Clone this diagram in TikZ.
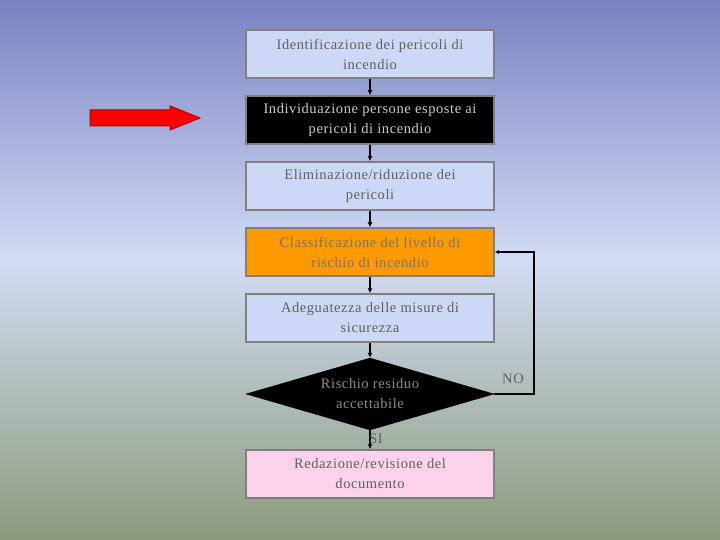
\documentclass[tikz,border=0pt]{standalone}
\usepackage{fontspec}
\setmainfont{Liberation Serif}[LetterSpace=4]
\usetikzlibrary{shapes.geometric,arrows.meta}
\definecolor{bgtop}{HTML}{7A82C2}
\definecolor{bgmid}{HTML}{D2DCF4}
\definecolor{bgbot}{HTML}{8C9A7C}
\definecolor{boxfill}{HTML}{CCD8F6}
\definecolor{boxline}{HTML}{808080}
\definecolor{txt}{HTML}{606060}
\definecolor{orng}{HTML}{FF9900}
\begin{document}
\begin{tikzpicture}[x=1pt,y=-1pt,
  box/.style={draw=boxline,line width=1.5pt,fill=boxfill,minimum width=248pt,minimum height=48pt,align=center,font=\fontsize{14.5}{20}\selectfont,text=txt,inner sep=0pt},
  link/.style={draw=black,line width=1.5pt,-{Latex[length=5pt,width=5pt]}}]
\shade[top color=bgtop,bottom color=bgmid] (0,0) rectangle (720,260);
\shade[top color=bgmid,bottom color=bgbot] (0,259) rectangle (720,540);
\useasboundingbox (0,0) rectangle (720,540);
\node[box] (a) at (370,54) {Identificazione dei pericoli di\\incendio};
\node[box,fill=black,text=black!20] (b) at (370,120) {Individuazione persone esposte ai\\pericoli di incendio};
\node[box] (c) at (370,186) {Eliminazione/riduzione dei\\pericoli};
\node[box,fill=orng,text=black!55] (d) at (370,252) {Classificazione del livello di\\rischio di incendio};
\node[box] (e) at (370,318) {Adeguatezza delle misure di\\sicurezza};
\node[diamond,fill=black,draw=black,minimum width=248pt,minimum height=72pt,inner sep=0pt,text=black!45,align=center,font=\fontsize{14.5}{20}\selectfont,aspect=3.44] (f) at (370,394) {Rischio residuo\\accettabile};
\node[box,fill=magenta!18] (g) at (370,474) {Redazione/revisione del\\documento};
\draw[link] (a) -- (b);
\draw[link] (b) -- (c);
\draw[link] (c) -- (d);
\draw[link] (d) -- (e);
\draw[link] (e) -- (f);
\draw[link] (f) -- (g);
\node[text=txt,font=\fontsize{14.5}{16}\selectfont] (si) at (376,439) {SI};
\coordinate (r1) at (534,394);
\coordinate (r2) at (534,252);
\draw[link,-{Latex[length=4pt,width=4pt]}] (f.east) -- (r1) -- (r2) -- (d.east);
\node[text=txt,font=\fontsize{14.5}{16}\selectfont] (no) at (513,379) {NO};
\draw[draw=red!70!black,fill=red,line width=1pt] (90,110) -- (170,110) -- (170,106) -- (200,118) -- (170,130) -- (170,126) -- (90,126) -- cycle;
\end{tikzpicture}
\end{document}
